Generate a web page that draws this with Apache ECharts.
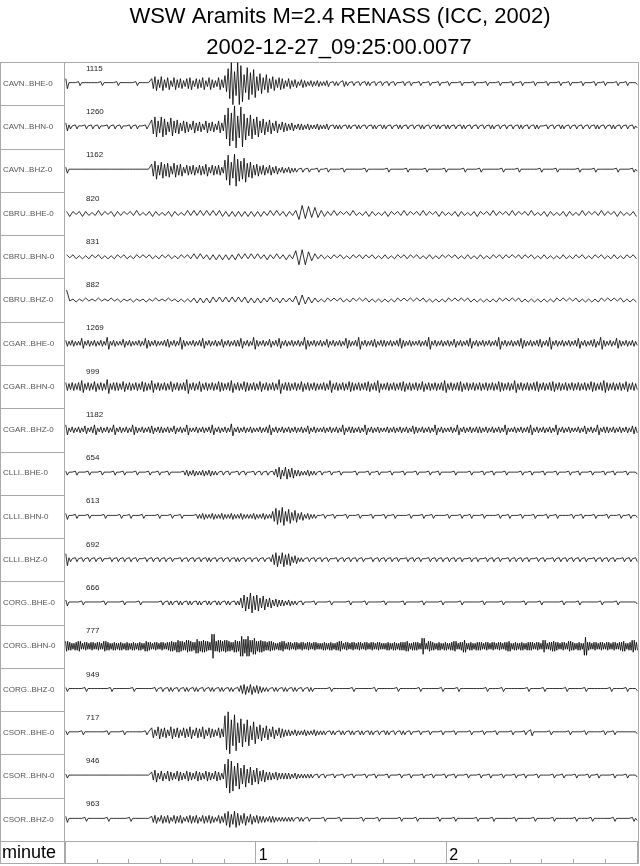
<!DOCTYPE html>
<html>
<head>
<meta charset="utf-8">
<script src="https://cdn.jsdelivr.net/npm/echarts@6/dist/echarts.min.js"></script>
<style>html,body{margin:0;padding:0;background:#fff}#c{width:640px;height:866px}</style>
</head>
<body>
<div id="c"></div>
<script>
// ---------------- DATA ----------------
const titleLine1 = 'WSW Aramits M=2.4 RENASS (ICC, 2002)';
const titleLine2 = '2002-12-27_09:25:00.0077';
const stations = ['CAVN..BHE-0','CAVN..BHN-0','CAVN..BHZ-0','CBRU..BHE-0','CBRU..BHN-0','CBRU..BHZ-0',
  'CGAR..BHE-0','CGAR..BHN-0','CGAR..BHZ-0','CLLI..BHE-0','CLLI..BHN-0','CLLI..BHZ-0',
  'CORG..BHE-0','CORG..BHN-0','CORG..BHZ-0','CSOR..BHE-0','CSOR..BHN-0','CSOR..BHZ-0'];
const peakLabels = ['1115','1260','1162','820','831','882','1269','999','1182','654','613','692','666','777','949','717','946','963'];
const timeMinSec = 0, timeMaxSec = 180, minorTickSec = 10, majorTickSec = 60;
const axisName = 'minute';

// envelope amplitude of each trace per 1-second bin
const CAVN_BHE = [
5,1,1,1,2,1,1,1,1,1, 1,2,1,1,1,1,2,1,1,1, 1,1,2,1,1,1,1,5,7,4, 7,4,6,3,6,4,5,3,5,6,
3,5,4,6,3,6,4,3,6,4, 8,15,21,12,21,18,9,16,11,14, 7,10,6,9,5,7,4,6,5,3, 5,3,4,2,4,3,2,3,2,3,
2,2,3,1,2,2,1,3,2,1, 2,1,2,1,2,2,1,2,1,2, 1,2,1,2,1,1,2,1,2,1, 1,2,1,1,2,1,1,2,1,1,
2,1,1,1,2,1,1,1,2,1, 1,1,2,1,1,1,2,1,1,1, 2,1,1,2,1,1,1,2,1,1, 1,2,1,1,1,2,1,1,2,1,
1,1,2,1,1,1,2,1,1,2, 1,1,1,2,1,1,2,1,1,1];
const CAVN_BHN = [
4,2,1,2,1,1,2,1,2,1, 2,1,1,2,1,2,1,2,1,1, 2,1,2,1,1,2,1,7,10,6, 10,8,5,9,6,7,4,6,5,3,
6,4,5,3,6,4,5,3,6,4, 12,19,14,21,11,20,13,9,12,8, 10,6,8,5,7,4,6,3,5,4, 3,4,2,3,3,2,3,2,2,3,
2,2,3,1,2,2,2,1,2,2, 1,2,2,1,2,1,2,2,1,2, 2,1,2,1,2,2,1,2,1,2, 1,2,2,1,2,1,2,2,1,2,
2,1,2,1,2,2,1,2,1,2, 1,2,1,2,2,1,2,1,2,1, 2,1,2,2,1,2,1,2,2,1, 1,2,1,2,1,2,2,1,2,1,
2,1,2,1,2,1,2,2,1,2, 1,2,2,1,2,1,2,1,2,1];
const CAVN_BHZ = [
3,1,1,1,1,1,1,1,1,1, 1,1,1,1,1,1,1,1,1,1, 1,1,1,1,1,1,1,6,9,5, 8,6,7,4,7,5,6,3,5,4,
5,3,5,4,6,3,5,4,5,3, 10,15,8,16,11,9,12,7,8,5, 6,4,5,3,5,3,4,2,3,2, 3,2,2,1,2,1,2,1,1,2,
1,1,2,1,1,1,1,2,1,1, 1,1,1,1,2,1,1,1,1,1, 1,2,1,1,1,1,1,2,1,1, 1,1,1,2,1,1,1,1,1,2,
1,1,1,1,1,2,1,1,1,1, 2,1,1,1,1,1,1,2,1,1, 1,1,2,1,1,1,1,1,1,2, 1,1,1,1,2,1,1,1,1,1,
1,2,1,1,1,1,2,1,1,1, 1,1,1,2,1,1,1,1,2,1];
const CBRU_BHE = [
2,3,2,1,2,3,2,2,1,2, 3,2,2,1,2,3,2,2,2,1, 2,2,3,2,1,2,2,3,2,2, 1,2,2,3,2,2,1,2,3,2,
3,2,3,2,3,2,3,2,3,3, 2,3,2,3,2,3,2,3,2,3, 2,3,2,2,3,2,3,2,2,3, 2,2,3,6,8,5,7,4,6,4,
3,3,2,2,3,2,2,1,2,2, 3,2,1,2,2,3,2,2,1,2, 2,3,2,1,2,2,3,2,2,1, 2,2,3,2,2,1,2,3,2,2,
1,2,2,3,2,2,1,2,2,3, 2,1,2,2,3,2,2,1,2,2, 3,2,2,1,2,2,3,2,1,2, 2,3,2,2,1,2,2,3,2,2,
1,2,3,2,2,1,2,2,3,2, 2,1,2,3,2,2,1,2,2,3];
const CBRU_BHN = [
2,1,2,2,1,2,1,2,2,1, 2,2,1,2,1,2,2,1,2,2, 1,2,2,1,2,1,2,2,1,2, 2,1,2,2,1,2,2,1,2,2,
3,2,3,2,2,3,2,3,2,3, 2,3,2,3,3,2,3,2,3,2, 3,2,2,3,2,2,3,2,2,3, 2,2,6,8,7,8,5,4,3,2,
2,2,1,2,2,1,2,2,1,2, 2,1,2,2,2,1,2,2,1,2, 2,2,1,2,2,1,2,2,2,1, 2,2,1,2,2,2,1,2,2,1,
2,1,2,2,1,2,2,2,1,2, 2,2,1,2,2,1,2,2,2,1, 2,1,2,2,2,1,2,2,1,2, 2,2,1,2,1,2,2,2,1,2,
2,1,2,2,1,2,2,1,2,2, 1,2,2,2,1,2,2,1,2,2];
const CBRU_BHZ = [
10,1,1,2,1,1,2,1,1,1, 2,1,1,1,2,1,1,2,1,1, 1,2,1,1,1,2,1,1,2,1, 1,1,2,1,1,2,1,2,1,2,
2,3,2,3,2,3,3,2,3,2, 3,2,3,2,3,2,3,3,2,3, 2,3,2,2,3,2,2,3,2,2, 2,2,4,5,5,4,3,3,2,2,
1,2,2,1,2,1,2,2,1,2, 2,1,2,1,2,2,1,2,1,2, 1,2,1,2,2,1,2,1,2,1, 2,1,2,2,1,2,1,2,1,2,
2,1,2,1,2,1,2,2,1,2, 1,2,1,2,1,2,2,1,2,1, 2,1,2,2,1,2,1,2,1,2, 1,2,1,2,2,1,2,1,2,1,
2,2,1,2,1,2,1,2,2,1, 2,1,2,1,2,2,1,2,1,2];
const CGAR_BHE = [
3,2,3,2,2,5,2,3,2,3, 2,3,2,6,2,3,2,2,4,2, 3,2,2,3,2,5,3,2,3,2, 2,3,4,2,3,2,6,3,2,2,
3,2,3,5,2,3,2,3,2,4, 2,3,2,3,3,5,2,3,2,6, 3,2,3,2,4,2,3,5,2,3, 2,3,2,3,2,6,3,2,3,2,
3,2,4,2,3,2,3,2,5,3, 2,3,6,2,3,2,3,4,2,3, 3,2,3,2,3,5,3,2,3,2, 2,3,2,3,6,2,3,2,3,2,
3,2,4,2,3,2,3,5,2,3, 2,3,2,3,2,3,6,2,3,2, 3,2,3,5,3,2,3,2,3,4, 2,3,6,2,3,2,3,2,3,2,
3,5,2,3,2,3,4,2,6,3, 2,3,2,5,3,2,3,2,3,2];
const CGAR_BHN = [
4,3,4,3,4,6,3,4,3,5, 3,4,3,7,3,4,4,3,5,3, 4,3,4,3,5,4,3,6,3,4, 3,4,3,5,3,4,3,4,7,3,
4,3,5,3,4,3,4,3,5,4, 3,4,6,3,4,3,5,4,3,4, 3,5,3,4,3,4,3,7,3,4, 4,3,4,3,5,3,4,3,4,3,
3,4,3,6,3,4,3,4,3,5, 4,3,4,3,4,5,3,4,6,3, 3,4,3,4,3,4,5,3,4,3, 4,3,5,3,4,3,4,3,4,6,
3,4,3,4,5,3,4,3,4,3, 4,3,4,3,4,3,5,4,3,4, 3,6,3,4,3,4,3,4,5,3, 4,3,4,5,3,4,3,4,3,4,
3,4,3,4,3,5,4,3,4,6, 4,3,4,3,4,3,5,3,4,3];
const CGAR_BHZ = [
5,2,3,2,3,2,4,2,3,5, 2,3,2,3,2,5,2,3,2,3, 2,5,3,2,3,2,3,4,2,3, 3,2,3,2,4,2,3,2,5,2,
2,3,2,3,2,3,5,2,3,2, 3,2,6,2,3,2,3,2,3,2, 2,3,2,3,5,2,3,2,3,2, 3,2,3,2,3,2,4,2,3,2,
2,3,2,3,2,3,2,5,2,3, 3,2,3,2,5,2,3,2,3,2, 2,3,2,3,2,3,2,3,2,4, 3,2,3,2,3,2,5,2,3,2,
2,3,2,5,2,3,2,3,2,3, 3,2,3,2,3,2,3,2,5,2, 2,3,2,3,2,3,5,2,3,2, 3,2,3,2,5,2,3,2,3,2,
2,3,2,4,2,3,2,5,2,3, 3,2,3,2,3,2,3,2,4,3];
const CLLI_BHE = [
2,1,1,2,1,1,1,2,1,1, 1,2,1,1,1,2,1,1,2,1, 1,1,2,1,1,1,2,1,1,2, 1,1,2,1,1,1,1,2,3,2,
3,2,2,3,2,3,2,2,1,2, 1,2,1,1,2,1,2,1,1,2, 1,2,1,2,1,2,4,6,3,6, 4,5,3,3,2,2,3,2,2,1,
2,1,1,2,1,1,2,1,1,1, 1,2,1,1,1,2,1,1,2,1, 1,1,2,1,1,1,2,1,1,1, 2,1,1,1,2,1,1,2,1,1,
1,1,2,1,1,1,1,2,1,1, 1,2,1,1,2,1,1,1,2,1, 1,1,1,2,1,1,2,1,1,1, 2,1,1,1,2,1,1,1,2,1,
1,2,1,1,1,2,1,1,1,2, 1,1,2,1,1,1,2,1,1,1];
const CLLI_BHN = [
3,1,1,2,1,1,1,2,1,1, 1,1,2,1,1,1,1,2,1,1, 2,1,1,1,2,1,1,1,1,2, 1,1,1,2,1,1,2,1,1,1,
1,2,2,3,2,2,3,2,2,3, 2,2,3,2,2,3,2,2,2,3, 2,2,3,2,2,5,8,6,9,5, 7,4,6,3,4,2,3,2,2,1,
1,2,1,1,2,1,1,1,2,1, 1,1,2,1,1,1,2,1,1,1, 2,1,1,2,1,1,1,1,2,1, 1,1,2,1,1,2,1,1,1,1,
2,1,1,1,2,1,1,2,1,1, 1,2,1,1,1,1,2,1,1,2, 1,1,1,2,1,1,1,2,1,1, 1,2,1,1,2,1,1,1,1,2,
1,1,2,1,1,1,2,1,1,1, 2,1,1,1,2,1,1,2,1,1];
const CLLI_BHZ = [
6,2,1,2,1,2,1,2,1,2, 1,2,1,1,2,1,2,1,2,1, 2,1,2,1,1,2,1,2,1,2, 1,2,1,2,1,1,2,1,2,1,
2,1,2,1,2,2,1,2,1,2, 1,2,1,2,2,1,2,1,2,1, 2,1,2,1,2,5,7,4,7,5, 6,3,4,2,2,1,2,1,2,1,
2,1,2,1,1,2,1,2,1,2, 1,2,1,2,1,1,2,1,2,1, 2,1,2,1,2,1,1,2,1,2, 1,2,1,1,2,1,2,1,2,1,
2,1,2,1,2,1,1,2,1,2, 1,1,2,1,2,1,2,1,1,2, 1,2,1,2,1,2,1,1,2,1, 2,1,1,2,1,2,1,2,1,2,
1,2,1,2,1,1,2,1,2,1, 2,1,2,1,1,2,1,2,1,2];
const CORG_BHE = [
3,1,1,1,1,2,1,1,1,1, 1,1,2,1,1,1,1,1,2,1, 1,1,1,2,1,1,1,1,1,1, 2,1,2,2,1,2,2,1,2,2,
1,2,2,1,2,2,1,2,2,1, 2,2,1,2,2,5,8,6,10,7, 8,5,7,4,5,3,4,3,3,2, 3,2,2,1,2,1,1,1,2,1,
1,1,1,2,1,1,1,1,1,2, 1,1,1,1,2,1,1,1,1,1, 2,1,1,1,1,1,2,1,1,1, 1,1,2,1,1,1,1,1,2,1,
1,1,1,1,2,1,1,1,1,1, 1,2,1,1,1,1,1,2,1,1, 1,1,1,1,2,1,1,1,1,2, 1,1,1,1,1,1,2,1,1,1,
1,2,1,1,1,1,1,1,2,1, 1,1,1,2,1,1,1,1,1,1];
const CORG_BHN = [
5,4,3,4,5,3,4,3,4,3, 4,3,5,4,3,4,3,4,3,4, 3,4,3,4,3,5,4,3,4,3, 4,3,4,5,4,6,5,4,6,5,
4,7,5,6,5,4,12,5,6,5, 6,5,4,6,5,10,7,10,6,8, 5,6,5,4,5,4,3,4,5,3, 4,3,4,3,4,3,4,3,4,3,
3,4,3,4,3,4,5,3,4,3, 4,3,4,3,4,3,4,3,4,3, 3,4,3,4,3,4,4,5,3,4, 4,3,8,3,5,4,3,4,3,4,
3,4,5,3,4,6,3,4,3,4, 4,3,4,3,4,3,4,3,4,5, 3,4,3,4,3,4,4,3,4,3, 6,3,4,5,4,3,4,3,5,4,
3,4,3,9,4,3,4,3,4,3, 4,3,4,3,4,5,3,4,6,4];
const CORG_BHZ = [
2,1,1,1,1,1,2,1,1,1, 1,1,1,1,2,1,1,1,1,1, 1,2,1,1,1,1,1,1,2,1, 2,1,2,2,1,2,1,2,2,1,
2,2,1,2,1,2,2,1,2,2, 1,2,2,1,2,4,5,3,5,3, 4,3,2,2,1,2,2,1,2,2, 1,2,2,1,2,1,2,2,1,1,
1,1,1,2,1,1,1,1,1,1, 2,1,1,1,1,1,1,2,1,1, 1,1,1,1,2,1,1,1,1,1, 1,2,1,1,1,1,1,1,2,1,
1,1,1,2,1,1,1,1,1,1, 1,1,2,1,1,1,1,2,1,1, 1,1,1,1,1,2,1,1,1,1, 2,1,1,1,1,1,1,2,1,1,
1,1,1,2,1,1,1,1,1,1, 1,2,1,1,1,1,2,1,1,1];
const CSOR_BHE = [
2,1,1,1,1,2,1,1,1,1, 1,1,1,2,1,1,1,1,2,1, 1,1,1,1,1,2,1,5,3,6, 4,5,3,6,4,5,3,5,4,6,
3,5,4,6,3,5,4,3,5,4, 17,21,13,18,10,14,9,13,7,11, 6,8,5,7,4,6,3,5,4,3, 3,2,3,2,2,3,2,2,3,2,
2,2,1,2,2,1,2,2,1,2, 2,1,2,2,1,2,2,1,2,1, 2,2,1,2,1,2,2,1,2,1, 1,2,1,1,2,1,1,1,2,1,
1,1,2,1,1,1,1,2,1,1, 1,2,1,1,1,2,1,1,1,1, 2,1,1,1,2,1,3,1,1,1, 1,1,2,1,1,1,1,1,2,1,
1,1,1,2,1,1,1,1,1,2, 1,1,2,1,1,1,1,1,1,1];
const CSOR_BHN = [
2,1,1,1,1,1,1,1,1,1, 1,1,1,1,1,1,1,1,1,1, 1,1,1,1,1,1,1,4,6,3, 5,3,5,4,3,5,4,3,5,4,
3,5,4,3,5,4,3,5,4,3, 12,17,15,10,13,8,11,7,9,6, 8,5,6,4,4,3,4,3,3,3, 3,2,3,2,2,2,2,2,1,2,
1,2,1,1,2,1,1,2,1,1, 2,1,1,1,2,1,1,2,1,1, 1,2,1,1,1,2,1,1,2,1, 1,1,2,1,1,2,1,1,1,2,
1,1,2,1,1,1,2,1,1,1, 2,1,1,2,1,1,1,2,1,1, 1,2,1,1,2,1,1,1,2,1, 1,1,1,2,1,1,2,1,1,1,
2,1,1,1,2,1,1,2,1,1, 1,1,2,1,1,1,2,1,1,1];
const CSOR_BHZ = [
3,1,1,1,1,1,2,1,1,1, 1,1,1,2,1,1,1,1,1,1, 2,1,1,1,1,1,1,3,4,2, 4,3,4,2,4,3,4,2,3,4,
3,4,2,4,3,4,3,2,4,3, 6,8,5,8,6,4,6,3,5,3, 4,3,3,2,3,3,2,2,2,2, 2,2,1,2,2,1,2,1,1,1,
1,2,1,1,1,1,2,1,1,1, 1,1,1,2,1,1,1,1,2,1, 1,1,1,1,1,2,1,1,1,1, 2,1,1,1,1,1,1,2,1,1,
1,1,2,1,1,1,1,1,1,2, 1,1,1,1,2,1,1,1,1,1, 1,2,1,1,1,1,1,2,1,1, 1,1,1,2,1,1,1,1,1,1,
2,1,1,1,1,2,1,1,1,1, 1,1,2,1,1,1,1,1,2,1];

const traces = [CAVN_BHE, CAVN_BHN, CAVN_BHZ, CBRU_BHE, CBRU_BHN, CBRU_BHZ,
  CGAR_BHE, CGAR_BHN, CGAR_BHZ, CLLI_BHE, CLLI_BHN, CLLI_BHZ,
  CORG_BHE, CORG_BHN, CORG_BHZ, CSOR_BHE, CSOR_BHN, CSOR_BHZ];

// ---------------- STYLE / LAYOUT ----------------
// wiggle extremes drawn per 1-second bin (drawing density of each trace)
const wigglesPerBin = [2,2,2, 1,1,1, 2,2,2, 2,2,2, 2,3,2, 2,2,2];
const TOP = 62, AX_TOP = 841, AX_BOT = 863;
const LEFT = 65, RIGHT = 638;
const N = traces.length;
const ROW_H = (AX_TOP - TOP) / N;
const FRAME = '#aaaaaa';
const FONT = 'Liberation Sans, Arial, Helvetica, sans-serif';

const grids = [], xAxes = [], yAxes = [], series = [], graphics = [];
traces.forEach((env, i) => {
  grids.push({left: LEFT, width: RIGHT - LEFT, top: TOP + i * ROW_H, height: ROW_H});
  xAxes.push({type: 'value', gridIndex: i, min: timeMinSec, max: timeMaxSec, show: false});
  yAxes.push({type: 'value', gridIndex: i, min: -ROW_H / 2, max: ROW_H / 2, show: false});
  const m = wigglesPerBin[i];
  const pts = [];
  env.forEach((a, k) => {
    for (let j = 0; j < m; j++) {
      const g = k * m + j;
      pts.push([k + (j + 0.5) / m, g % 2 === 0 ? a : -a]);
    }
  });
  series.push({
    type: 'line', xAxisIndex: i, yAxisIndex: i, data: pts, symbol: 'none',
    lineStyle: {width: 0.8, color: '#000'}, silent: true, animation: false, clip: false
  });
  graphics.push({type: 'text', x: 3, y: TOP + (i + 0.5) * ROW_H,
    style: {text: stations[i], fontSize: 8, fontFamily: FONT, fill: '#555', verticalAlign: 'middle'}});
  graphics.push({type: 'text', x: 86, y: TOP + i * ROW_H + 6.5,
    style: {text: peakLabels[i], fontSize: 8, fontFamily: FONT, fill: '#222', verticalAlign: 'middle'}});
  if (i > 0) {
    const y = Math.round(TOP + i * ROW_H) + 0.5;
    graphics.push({type: 'line', shape: {x1: 0, y1: y, x2: LEFT, y2: y}, style: {stroke: FRAME, lineWidth: 1}});
  }
});

// time axis row
const ax = N;
grids.push({left: LEFT, width: RIGHT - LEFT, top: AX_TOP, height: AX_BOT - AX_TOP});
yAxes.push({type: 'value', gridIndex: ax, min: 0, max: 1, show: false});
xAxes.push({type: 'value', gridIndex: ax, min: timeMinSec, max: timeMaxSec, interval: minorTickSec,
  axisLine: {show: false}, axisTick: {show: true, inside: true, length: 4, lineStyle: {color: FRAME}},
  axisLabel: {show: false}, splitLine: {show: false}});
xAxes.push({type: 'value', gridIndex: ax, min: timeMinSec, max: timeMaxSec, interval: majorTickSec,
  axisLine: {show: false}, axisTick: {show: false},
  splitLine: {show: true, lineStyle: {color: FRAME, width: 1}},
  axisLabel: {show: true, inside: true, margin: 7, align: 'left', padding: [0, 0, 0, 3],
    fontSize: 16, fontFamily: FONT, color: '#000',
    formatter: v => (v > timeMinSec && v < timeMaxSec) ? String(v / 60) : ''}});

// frame
const hl = (y, x1, x2) => ({type: 'line', shape: {x1: x1, y1: y + 0.5, x2: x2, y2: y + 0.5}, style: {stroke: FRAME, lineWidth: 1}});
const vl = (x, y1, y2) => ({type: 'line', shape: {x1: x + 0.5, y1: y1, x2: x + 0.5, y2: y2}, style: {stroke: FRAME, lineWidth: 1}});
graphics.push(hl(TOP, 0, RIGHT + 1), hl(AX_TOP, 0, RIGHT + 1), hl(AX_BOT, 0, RIGHT + 1),
  vl(0, TOP, AX_BOT), vl(LEFT - 1, TOP, AX_BOT + 1), vl(RIGHT, TOP, AX_BOT + 1));
graphics.push({type: 'text', x: 2, y: (AX_TOP + AX_BOT) / 2 + 1,
  style: {text: axisName, fontSize: 18, fontFamily: FONT, fill: '#000', verticalAlign: 'middle'}});

const chart = echarts.init(document.getElementById('c'), null, {renderer: 'canvas'});
chart.setOption({
  animation: false,
  backgroundColor: '#fff',
  title: [
    {text: titleLine1, left: 335, top: 1, textAlign: 'center',
      textStyle: {fontSize: 22, fontWeight: 'normal', fontFamily: FONT, color: '#000'}},
    {text: titleLine2, left: 334, top: 32, textAlign: 'center',
      textStyle: {fontSize: 22, fontWeight: 'normal', fontFamily: FONT, color: '#000'}}
  ],
  grid: grids, xAxis: xAxes, yAxis: yAxes, series: series, graphic: graphics
});
</script>
</body>
</html>
